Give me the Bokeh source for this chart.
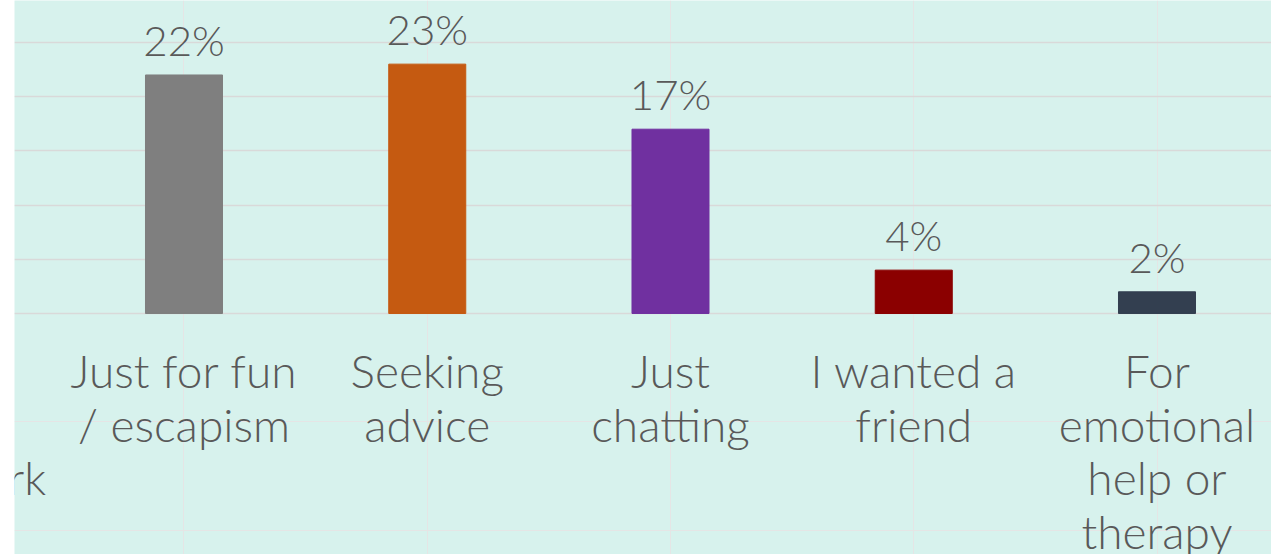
from bokeh.plotting import figure
from bokeh.models import Range1d, FixedTicker, ColumnDataSource, Grid
from bokeh.core.properties import value
from bokeh.embed import file_html
from bokeh.resources import INLINE

# Data (first category is only partly visible at the left edge)
categories = [
    "To help\nwith\nhomework",
    "Just for fun\n/ escapism",
    "Seeking\nadvice",
    "Just\nchatting",
    "I wanted a\nfriend",
    "For\nemotional\nhelp or\ntherapy",
]
values = [22, 23, 17, 4, 2]          # for categories[1:]
colors = ["#7f7f7f", "#c55a11", "#7030a0", "#8b0000", "#333f50"]
grid_ticks = [0, 5, 10, 15, 20, 25]

xs = list(range(len(categories)))

bar_src = ColumnDataSource(dict(
    x=xs[1:],
    top=values,
    color=colors,
    label=[f"{v}%" for v in values],
))
cat_src = ColumnDataSource(dict(x=xs, y=[0] * len(xs), text=categories))

p = figure(
    width=1271, height=554,
    x_range=Range1d(0.3032, 5.4707),
    y_range=Range1d(-22.23, 28.87),
    x_axis_location=None, y_axis_location=None,
    output_backend="svg", toolbar_location=None,
    min_border_left=14, min_border_right=0, min_border_top=0, min_border_bottom=0,
)
p.background_fill_color = "#d7f2ed"
p.border_fill_color = "white"
p.outline_line_color = None

grid = Grid(dimension=1, ticker=FixedTicker(ticks=grid_ticks),
            grid_line_color="#d9d9d9", grid_line_width=1.5)
p.add_layout(grid)

p.vbar(x="x", top="top", bottom=0, width=0.3166, color="color", source=bar_src)

p.text(x="x", y="top", text="label", source=bar_src,
       text_align="center", text_baseline="alphabetic", y_offset=-35,
       text_font=value("Lato Light"), text_font_size="42px", text_color="#595959")

p.text(x="x", y="y", text="text", source=cat_src,
       text_align="center", text_baseline="top", y_offset=30,
       text_font=value("Lato Light"), text_font_size="46px", text_color="#595959",
       text_line_height=0.97)

open("out.html", "w").write(file_html(p, INLINE))
